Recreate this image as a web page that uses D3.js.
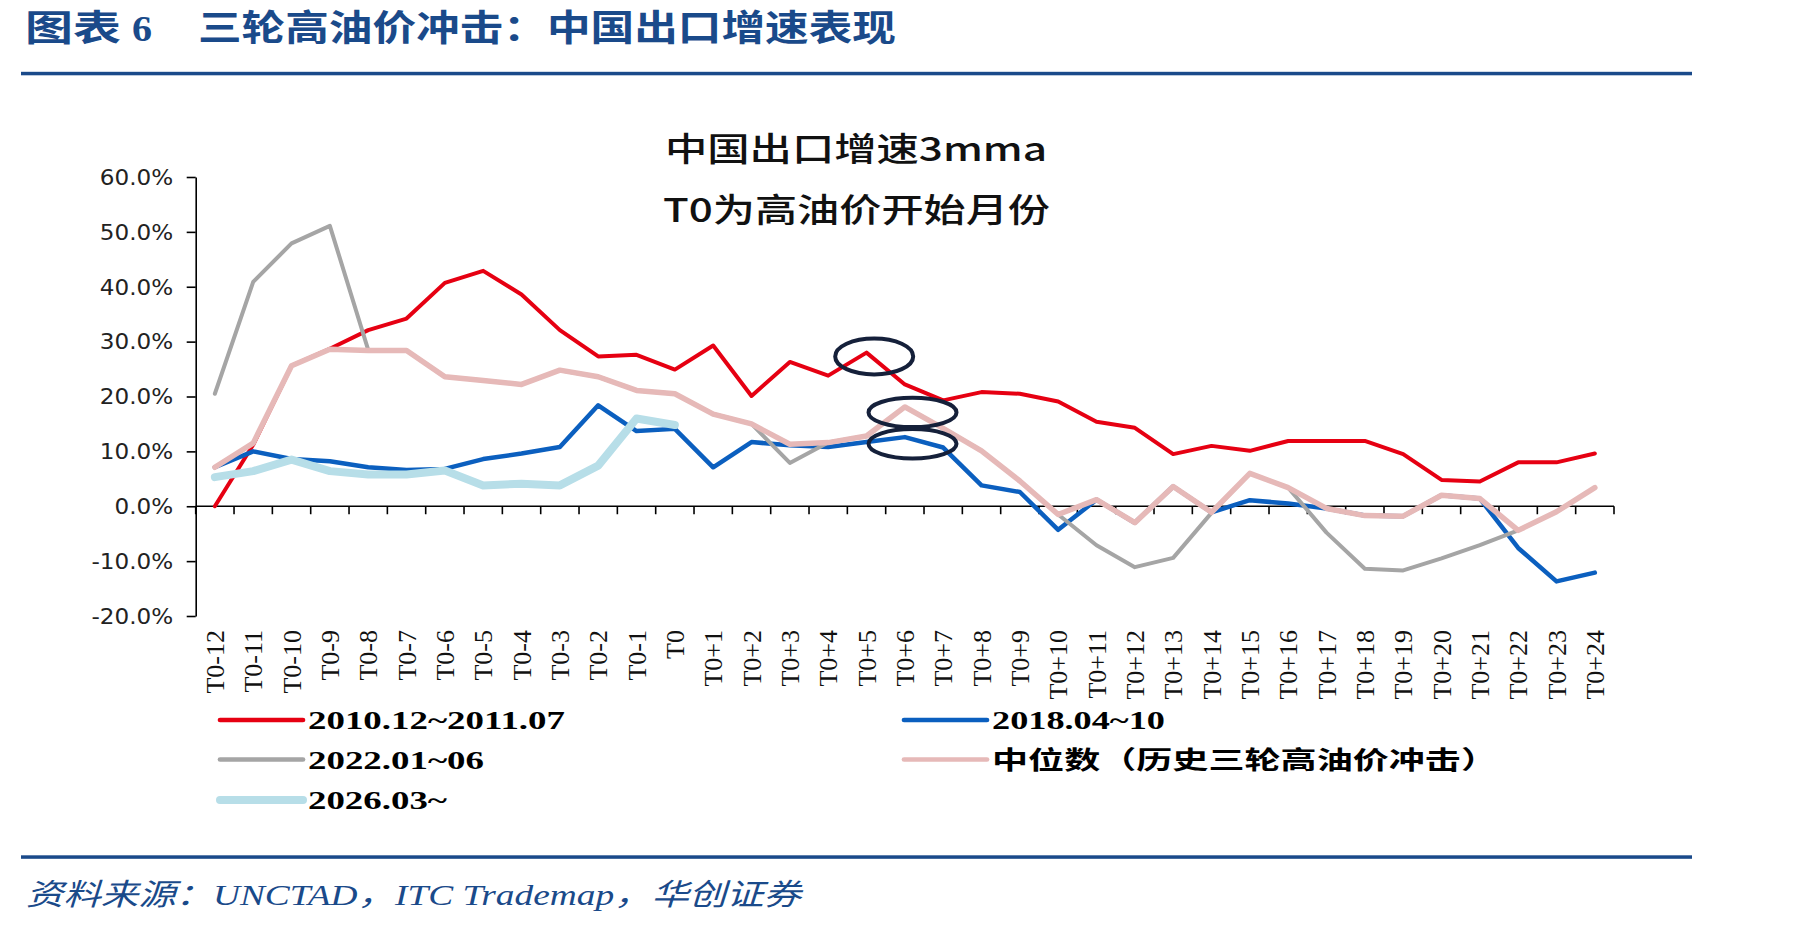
<!DOCTYPE html>
<html>
<head>
<meta charset="utf-8">
<script src="https://cdn.jsdelivr.net/npm/d3@7/dist/d3.min.js"></script>
<style>
  body { margin: 0; background: #fff; }
  svg { display: block; }
</style>
</head>
<body>
<svg id="chart" width="1801" height="926"></svg>
<script>
// categories on the x axis: months relative to T0
var categories = ["T0-12","T0-11","T0-10","T0-9","T0-8","T0-7","T0-6","T0-5","T0-4","T0-3","T0-2","T0-1","T0",
  "T0+1","T0+2","T0+3","T0+4","T0+5","T0+6","T0+7","T0+8","T0+9","T0+10","T0+11","T0+12",
  "T0+13","T0+14","T0+15","T0+16","T0+17","T0+18","T0+19","T0+20","T0+21","T0+22","T0+23","T0+24"];

// export growth 3mma, %
var s2010 = [0.0, 11.2, 25.6, 28.7, 32.1, 34.2, 40.7, 42.9, 38.6, 32.1, 27.3, 27.6, 24.9,
  29.3, 20.1, 26.3, 23.8, 28.0, 22.2, 19.3, 20.8, 20.5, 19.1, 15.4, 14.3, 9.5, 11.0, 10.1, 11.9, 11.9, 11.9, 9.5, 4.8, 4.5, 8.0, 8.0, 9.6];
var s2018 = [7.1, 10.0, 8.6, 8.2, 7.1, 6.6, 6.8, 8.6, 9.6, 10.8, 18.4, 13.7, 14.1,
  7.1, 11.7, 11.1, 10.8, 11.7, 12.6, 10.7, 3.8, 2.6, -4.3, 1.2, -3.0, 3.6, -1.1, 1.1, 0.5, -0.4, -1.7, -1.8, 2.0, 1.4, -7.6, -13.7, -12.1];
var s2022 = [20.5, 40.9, 47.9, 51.1, 28.5, 28.4, 23.6, 22.9, 22.2, 24.8, 23.6, 21.1, 20.5,
  16.8, 15.0, 7.9, 11.6, 12.8, 18.1, 14.2, 10.1, 4.6, -1.5, -7.1, -11.1, -9.4, -1.2, 6.0, 3.4, -4.8, -11.4, -11.7, -9.5, -7.1, -4.4, -1.0, 3.4];
var sMedian = [7.1, 11.5, 25.6, 28.6, 28.4, 28.4, 23.6, 22.9, 22.2, 24.8, 23.6, 21.1, 20.5,
  16.8, 15.0, 11.3, 11.6, 12.8, 18.1, 14.2, 10.1, 4.6, -1.5, 1.2, -3.0, 3.6, -1.1, 6.0, 3.4, -0.4, -1.7, -1.8, 2.0, 1.4, -4.4, -1.0, 3.4];
var s2026 = [5.3, 6.4, 8.5, 6.4, 5.8, 5.8, 6.5, 3.8, 4.1, 3.8, 7.4, 16.0, 14.8];

var seriesNames = ["2010.12~2011.07", "2018.04~10", "2022.01~06", "中位数（历史三轮高油价冲击）", "2026.03~"];

var yTicks = [-20, -10, 0, 10, 20, 30, 40, 50, 60];
var yTickLabels = ["-20.0%", "-10.0%", "0.0%", "10.0%", "20.0%", "30.0%", "40.0%", "50.0%", "60.0%"];

// circled points
var noteCats = ["T0+5", "T0+6", "T0+6"];
var noteVals = [27.3, 17.1, 11.4];

// styles
var colors = ["#E60012", "#0B5FBF", "#A5A5A5", "#E6B9B8", "#B7DEE8"];
var widths = [4, 4.5, 4, 5.5, 8];
var legendW = [4.7, 4.7, 4.7, 4.7, 8];
var legendLen = [257, 173, 176, 505, 139];
var navy = "#1A4A8A";

var svg = d3.select("#chart");

var x = d3.scaleBand().domain(categories).range([195.7, 1614]).padding(0);
var y = d3.scaleLinear().domain([-20, 60]).range([616, 177]);
var cx = function(c) { return x(c) + x.bandwidth() / 2; };

// header
function stretched(t, x0, y0, len, size, opts) {
  var el = svg.append("text")
    .attr("x", x0).attr("y", y0)
    .attr("textLength", len).attr("lengthAdjust", "spacingAndGlyphs")
    .attr("font-size", size)
    .text(t);
  for (var k in opts) el.attr(k, opts[k]);
  return el;
}
var titleFont = { "font-family": "'Noto Sans CJK SC', sans-serif", "font-weight": 700, "fill": navy };
stretched("图表", 25, 41, 96, 36, titleFont);
stretched("6", 132, 41, 20, 36, { "font-family": "'Liberation Serif', serif", "font-weight": 700, "fill": navy });
stretched("三轮高油价冲击：中国出口增速表现", 198, 41, 698, 36, titleFont);

svg.append("rect").attr("x", 21).attr("y", 71.8).attr("width", 1671).attr("height", 3.5).attr("fill", navy);
svg.append("rect").attr("x", 21).attr("y", 855.3).attr("width", 1671).attr("height", 3.5).attr("fill", navy);

stretched("资料来源：UNCTAD，ITC Trademap，华创证券", 26, 905, 775, 30,
  { "font-family": "'Liberation Serif', 'Noto Sans CJK SC', serif", "font-style": "italic", "fill": navy });

// chart title
var ctFont = { "font-family": "'Noto Sans CJK SC', sans-serif", "font-weight": 500, "fill": "#111" };
stretched("中国出口增速3mma", 665, 161, 382, 33, ctFont);
stretched("T0为高油价开始月份", 663, 222, 387, 33, ctFont);

// y axis
var yAxis = d3.axisLeft(y).tickValues(yTicks).tickSize(9).tickSizeOuter(0)
  .tickFormat(function(d, i) { return yTickLabels[i]; });
var gy = svg.append("g").attr("transform", "translate(195.7,0)").call(yAxis);
gy.select(".domain").attr("stroke", "#000").attr("stroke-width", 1.6);
gy.selectAll(".tick line").attr("stroke", "#000").attr("stroke-width", 1.6);
gy.selectAll(".tick text")
  .attr("x", -20.5).attr("dy", "0.35em")
  .attr("transform", "scale(1.1,1)")
  .attr("font-family", "'DejaVu Sans', sans-serif")
  .attr("font-size", 21).attr("fill", "#222");

// x axis line at zero, ticks at band edges
var gx = svg.append("g");
gx.append("line").attr("x1", x.range()[0]).attr("x2", x.range()[1])
  .attr("y1", y(0)).attr("y2", y(0)).attr("stroke", "#000").attr("stroke-width", 1.6);
var edges = categories.map(function(c) { return x(c); }).concat([x.range()[1]]);
gx.selectAll(".xt").data(edges).enter().append("line")
  .attr("x1", function(d) { return d; }).attr("x2", function(d) { return d; })
  .attr("y1", y(0)).attr("y2", y(0) + 8)
  .attr("stroke", "#000").attr("stroke-width", 1.6);

// category labels sit at the bottom of the plot
gx.selectAll(".xl").data(categories).enter().append("text")
  .attr("transform", function(d) { return "translate(" + cx(d) + ",630) rotate(-90)"; })
  .attr("text-anchor", "end").attr("dy", "0.35em")
  .attr("font-family", "'Liberation Serif', serif").attr("font-size", 26).attr("fill", "#111")
  .text(function(d) { return d; });

// lines
var allSeries = [s2010, s2018, s2022, sMedian, s2026];
var line = d3.line()
  .defined(function(d) { return d != null; })
  .x(function(d, i) { return cx(categories[i]); })
  .y(function(d) { return y(d); });

svg.append("g").selectAll("path").data(allSeries).enter().append("path")
  .attr("d", line)
  .attr("fill", "none")
  .attr("stroke", function(d, i) { return colors[i]; })
  .attr("stroke-width", function(d, i) { return widths[i]; })
  .attr("stroke-linejoin", "round")
  .attr("stroke-linecap", "round");

// ellipses round the T0+5 / T0+6 points
var rxs = [39, 44, 44], rys = [18, 14.7, 14.7];
svg.append("g").selectAll("ellipse").data(noteVals).enter().append("ellipse")
  .attr("cx", function(d, i) { return x(noteCats[i]) + x.bandwidth() * 0.7; })
  .attr("cy", function(d) { return y(d); })
  .attr("rx", function(d, i) { return rxs[i]; })
  .attr("ry", function(d, i) { return rys[i]; })
  .attr("fill", "none").attr("stroke", "#15203A").attr("stroke-width", 4);

// legend: two columns, Excel order
var legX = [220, 904], legY = [720, 759.5, 800];
var leg = svg.append("g").selectAll("g").data(seriesNames).enter().append("g")
  .attr("transform", function(d, i) { return "translate(" + legX[i % 2] + "," + legY[Math.floor(i / 2)] + ")"; });
leg.append("line").attr("x1", 0).attr("x2", 83).attr("y1", 0).attr("y2", 0)
  .attr("stroke", function(d, i) { return colors[i]; })
  .attr("stroke-width", function(d, i) { return legendW[i]; })
  .attr("stroke-linecap", "round");
leg.append("text").attr("x", 88).attr("dy", "0.36em")
  .attr("textLength", function(d, i) { return legendLen[i]; })
  .attr("lengthAdjust", "spacingAndGlyphs")
  .attr("font-family", "'Liberation Serif', 'Noto Sans CJK SC', serif")
  .attr("font-weight", 700).attr("font-size", 25).attr("fill", "#000")
  .text(function(d) { return d; });
</script>
</body>
</html>
